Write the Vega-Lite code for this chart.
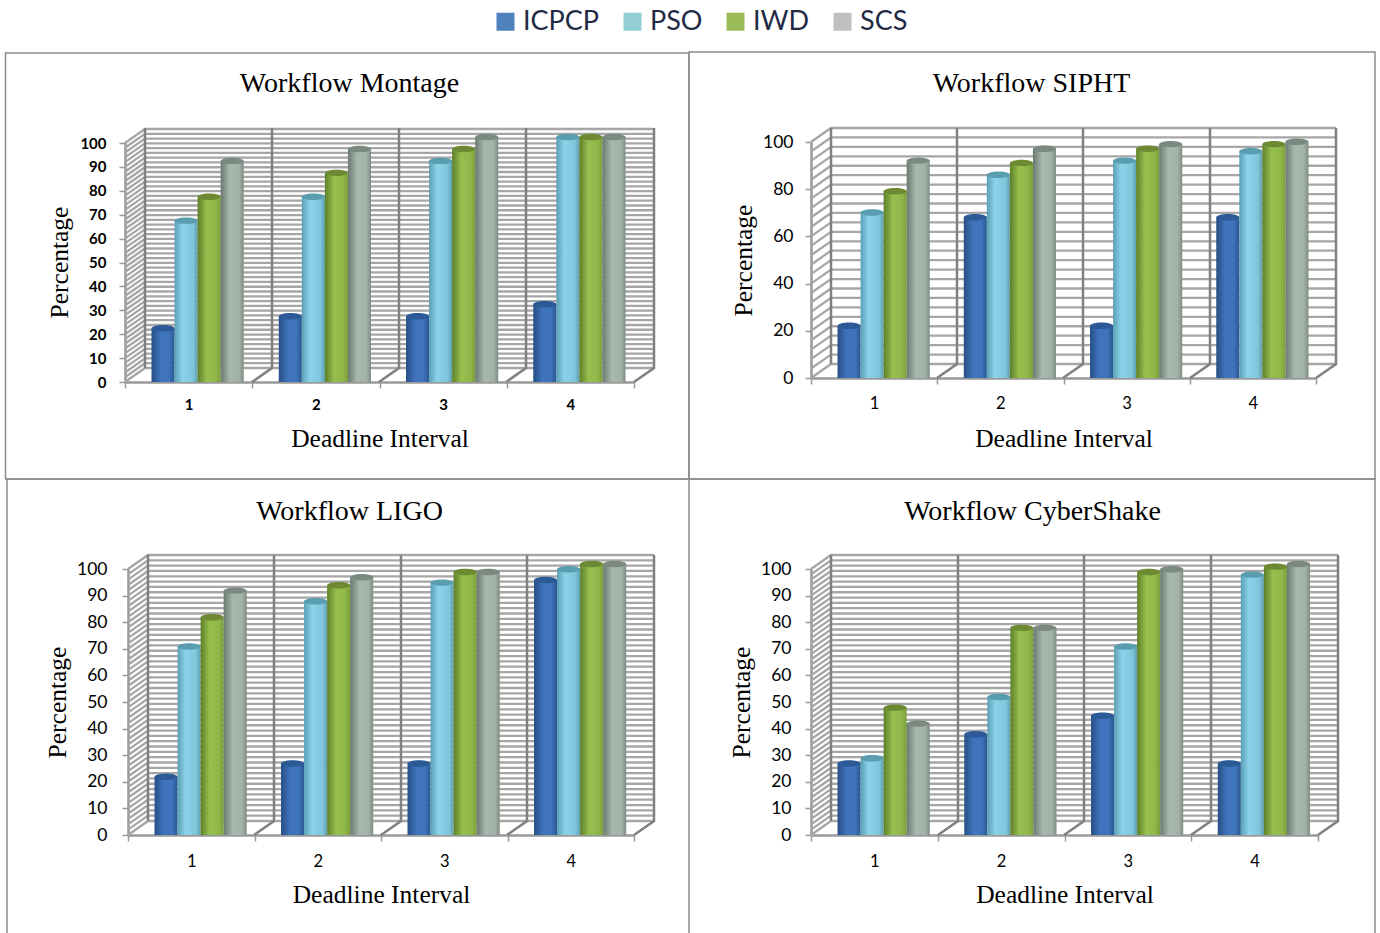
{"$schema":"https://vega.github.io/schema/vega-lite/v6.json","background":"white","padding":{"left":2,"top":8,"right":0,"bottom":0},"bounds":"flush","spacing":427,
"config":{"view":{"stroke":null},"axis":{"grid":false,"domainColor":"#999999","domainWidth":2.5,"tickColor":"#999999","tickWidth":1.5,"tickSize":6,"labelColor":"#000000","labelFont":"Lato","titleColor":"#000000","titleFont":"Liberation Serif","titleFontWeight":"normal","titleFontSize":25.5}},
"datasets":{
"montage":[{"g":"1","s":"ICPCP","v":20},{"g":"1","s":"PSO","v":65},{"g":"1","s":"IWD","v":75},{"g":"1","s":"SCS","v":90},{"g":"2","s":"ICPCP","v":25},{"g":"2","s":"PSO","v":75},{"g":"2","s":"IWD","v":85},{"g":"2","s":"SCS","v":95},{"g":"3","s":"ICPCP","v":25},{"g":"3","s":"PSO","v":90},{"g":"3","s":"IWD","v":95},{"g":"3","s":"SCS","v":100},{"g":"4","s":"ICPCP","v":30},{"g":"4","s":"PSO","v":100},{"g":"4","s":"IWD","v":100},{"g":"4","s":"SCS","v":100}],
"sipht":[{"g":"1","s":"ICPCP","v":20},{"g":"1","s":"PSO","v":68},{"g":"1","s":"IWD","v":77},{"g":"1","s":"SCS","v":90},{"g":"2","s":"ICPCP","v":66},{"g":"2","s":"PSO","v":84},{"g":"2","s":"IWD","v":89},{"g":"2","s":"SCS","v":95},{"g":"3","s":"ICPCP","v":20},{"g":"3","s":"PSO","v":90},{"g":"3","s":"IWD","v":95},{"g":"3","s":"SCS","v":97},{"g":"4","s":"ICPCP","v":66},{"g":"4","s":"PSO","v":94},{"g":"4","s":"IWD","v":97},{"g":"4","s":"SCS","v":98}],
"ligo":[{"g":"1","s":"ICPCP","v":20},{"g":"1","s":"PSO","v":69},{"g":"1","s":"IWD","v":80},{"g":"1","s":"SCS","v":90},{"g":"2","s":"ICPCP","v":25},{"g":"2","s":"PSO","v":86},{"g":"2","s":"IWD","v":92},{"g":"2","s":"SCS","v":95},{"g":"3","s":"ICPCP","v":25},{"g":"3","s":"PSO","v":93},{"g":"3","s":"IWD","v":97},{"g":"3","s":"SCS","v":97},{"g":"4","s":"ICPCP","v":94},{"g":"4","s":"PSO","v":98},{"g":"4","s":"IWD","v":100},{"g":"4","s":"SCS","v":100}],
"cyber":[{"g":"1","s":"ICPCP","v":25},{"g":"1","s":"PSO","v":27},{"g":"1","s":"IWD","v":46},{"g":"1","s":"SCS","v":40},{"g":"2","s":"ICPCP","v":36},{"g":"2","s":"PSO","v":50},{"g":"2","s":"IWD","v":76},{"g":"2","s":"SCS","v":76},{"g":"3","s":"ICPCP","v":43},{"g":"3","s":"PSO","v":69},{"g":"3","s":"IWD","v":97},{"g":"3","s":"SCS","v":98},{"g":"4","s":"ICPCP","v":25},{"g":"4","s":"PSO","v":96},{"g":"4","s":"IWD","v":99},{"g":"4","s":"SCS","v":100}],
"grid2":[{"v":0},{"v":2},{"v":4},{"v":6},{"v":8},{"v":10},{"v":12},{"v":14},{"v":16},{"v":18},{"v":20},{"v":22},{"v":24},{"v":26},{"v":28},{"v":30},{"v":32},{"v":34},{"v":36},{"v":38},{"v":40},{"v":42},{"v":44},{"v":46},{"v":48},{"v":50},{"v":52},{"v":54},{"v":56},{"v":58},{"v":60},{"v":62},{"v":64},{"v":66},{"v":68},{"v":70},{"v":72},{"v":74},{"v":76},{"v":78},{"v":80},{"v":82},{"v":84},{"v":86},{"v":88},{"v":90},{"v":92},{"v":94},{"v":96},{"v":98},{"v":100}],
"grid4":[{"v":0},{"v":4},{"v":8},{"v":12},{"v":16},{"v":20},{"v":24},{"v":28},{"v":32},{"v":36},{"v":40},{"v":44},{"v":48},{"v":52},{"v":56},{"v":60},{"v":64},{"v":68},{"v":72},{"v":76},{"v":80},{"v":84},{"v":88},{"v":92},{"v":96},{"v":100}]
},
"vconcat":[
{"hconcat":[
{"width":509,"height":240,"title":{"text":"Workflow Montage","font":"Liberation Serif","fontSize":28,"fontWeight":"normal","anchor":"middle","dx":-30,"offset":-48,"color":"#000000"},
"resolve":{"scale":{"fill":"independent"}},
"layer":[
{"data":{"values":[{"k":"frame"}]},"mark":{"type":"point","shape":"M-119.5,97L-119.5,-329L564,-329L564,97Z","size":4,"filled":false,"stroke":"#8c8c8c","strokeWidth":1.5,"opacity":1},"encoding":{"x":{"value":0},"y":{"datum":0,"scale":{"domain":[0,100.42],"nice":false},"axis":{"tickCount":11,"values":[0,10,20,30,40,50,60,70,80,90,100]}}}},
{"data":{"name":"grid2"},"mark":{"type":"point","shape":"M0,0L20,-14L529,-14","size":4,"filled":false,"stroke":"#a6a6a6","strokeWidth":2.3,"opacity":1},"encoding":{"x":{"value":0},"y":{"field":"v","type":"quantitative","scale":{"domain":[0,100.42],"nice":false},"axis":{"tickCount":11,"values":[0,10,20,30,40,50,60,70,80,90,100]}}}},
{"data":{"values":[{"k":"walls"}]},"mark":{"type":"point","shape":"M127,0L147,-14L147,-254M254,0L274,-14L274,-254M381,0L401,-14L401,-254M509,0L529,-14L529,-254M20,-14L20,-254","size":4,"filled":false,"stroke":"#808080","strokeWidth":2.5,"opacity":1},"encoding":{"x":{"value":0},"y":{"datum":0,"scale":{"domain":[0,100.42],"nice":false},"axis":{"tickCount":11,"values":[0,10,20,30,40,50,60,70,80,90,100]}}}},
{"data":{"name":"montage"},"mark":{"type":"bar","yOffset":-6,"y2Offset":-6},"encoding":{
"x":{"field":"g","type":"nominal","scale":{"paddingInner":0,"paddingOuter":0},"axis":{"title":"Deadline Interval","tickBand":"extent","labelAngle":0,"labelFontSize":15,"labelFontWeight":"bold","labelPadding":9,"titlePadding":14}},
"xOffset":{"field":"s","type":"nominal","scale":{"domain":["ICPCP","PSO","IWD","SCS"],"paddingInner":0,"paddingOuter":0.76,"align":0.757}},
"y":{"field":"v","type":"quantitative","stack":null,"scale":{"domain":[0,100.42],"nice":false},"axis":{"title":"Percentage","tickCount":11,"values":[0,10,20,30,40,50,60,70,80,90,100],"labelOverlap":false,"labelBound":false,"labelFontSize":15,"labelFontWeight":"bold","labelPadding":13,"titlePadding":7}},
"fill":{"field":"s","type":"nominal","legend":null,"scale":{"domain":["ICPCP","PSO","IWD","SCS"],"range":[{"expr":"{gradient:'linear',x1:0,y1:0,x2:1,y2:0,stops:[{offset:0,color:'#264f84'},{offset:0.4,color:'#3f74bd'},{offset:0.75,color:'#3f74bd'},{offset:1,color:'#2a578f'}]}"},{"expr":"{gradient:'linear',x1:0,y1:0,x2:1,y2:0,stops:[{offset:0,color:'#5a9fb5'},{offset:0.35,color:'#8ad3e8'},{offset:0.8,color:'#7fc6dc'},{offset:1,color:'#5f9fb0'}]}"},{"expr":"{gradient:'linear',x1:0,y1:0,x2:1,y2:0,stops:[{offset:0,color:'#5d7f28'},{offset:0.4,color:'#98c04f'},{offset:0.8,color:'#8fb648'},{offset:1,color:'#7a9e3b'}]}"},{"expr":"{gradient:'linear',x1:0,y1:0,x2:1,y2:0,stops:[{offset:0,color:'#6b7a70'},{offset:0.4,color:'#a9b8ad'},{offset:0.8,color:'#a3b2a7'},{offset:1,color:'#7e8d82'}]}"}]}}}},
{"data":{"name":"montage"},"mark":{"type":"point","shape":"M-11.5,0A11.5,3.2,0,1,1,11.5,0A11.5,3.2,0,1,1,-11.5,0Z","size":4,"filled":true,"opacity":1,"yOffset":-6},"encoding":{
"x":{"field":"g","type":"nominal","scale":{"paddingInner":0,"paddingOuter":0}},
"xOffset":{"field":"s","type":"nominal","scale":{"domain":["ICPCP","PSO","IWD","SCS"],"paddingInner":0,"paddingOuter":0.76,"align":0.757}},
"y":{"field":"v","type":"quantitative","stack":null,"scale":{"domain":[0,100.42],"nice":false},"axis":{"tickCount":11,"values":[0,10,20,30,40,50,60,70,80,90,100]}},
"fill":{"field":"s","type":"nominal","legend":null,"scale":{"domain":["ICPCP","PSO","IWD","SCS"],"range":["#2b5a97","#5a9cb0","#6d8a33","#7a8a80"]}}}},
{"data":{"name":"montage"},"mark":{"type":"point","shape":"M-11.5,0A11.5,3.2,0,0,0,11.5,0Z","size":4,"filled":true,"opacity":1,"yOffset":-6},"encoding":{
"x":{"field":"g","type":"nominal","scale":{"paddingInner":0,"paddingOuter":0}},
"xOffset":{"field":"s","type":"nominal","scale":{"domain":["ICPCP","PSO","IWD","SCS"],"paddingInner":0,"paddingOuter":0.76,"align":0.757}},
"y":{"datum":0,"scale":{"domain":[0,100.42],"nice":false},"axis":{"tickCount":11,"values":[0,10,20,30,40,50,60,70,80,90,100]}},
"fill":{"field":"s","type":"nominal","legend":null,"scale":{"domain":["ICPCP","PSO","IWD","SCS"],"range":[{"expr":"{gradient:'linear',x1:0,y1:0,x2:1,y2:0,stops:[{offset:0,color:'#264f84'},{offset:0.4,color:'#3f74bd'},{offset:0.75,color:'#3f74bd'},{offset:1,color:'#2a578f'}]}"},{"expr":"{gradient:'linear',x1:0,y1:0,x2:1,y2:0,stops:[{offset:0,color:'#5a9fb5'},{offset:0.35,color:'#8ad3e8'},{offset:0.8,color:'#7fc6dc'},{offset:1,color:'#5f9fb0'}]}"},{"expr":"{gradient:'linear',x1:0,y1:0,x2:1,y2:0,stops:[{offset:0,color:'#5d7f28'},{offset:0.4,color:'#98c04f'},{offset:0.8,color:'#8fb648'},{offset:1,color:'#7a9e3b'}]}"},{"expr":"{gradient:'linear',x1:0,y1:0,x2:1,y2:0,stops:[{offset:0,color:'#6b7a70'},{offset:0.4,color:'#a9b8ad'},{offset:0.8,color:'#a3b2a7'},{offset:1,color:'#7e8d82'}]}"}]}}}},
{"data":{"name":"montage"},"mark":{"type":"point","filled":true,"size":0,"opacity":1},"encoding":{"x":{"value":0},"y":{"datum":0,"scale":{"domain":[0,100.42],"nice":false},"axis":{"tickCount":11,"values":[0,10,20,30,40,50,60,70,80,90,100]}},
"color":{"field":"s","type":"nominal","scale":{"domain":["ICPCP","PSO","IWD","SCS"],"range":["#4f81bd","#93cdd5","#9bbb59","#bfbfbf"]},"legend":{"orient":"none","legendX":367,"legendY":-134,"direction":"horizontal","columns":4,"title":null,"symbolType":"square","symbolSize":324,"symbolStrokeWidth":0,"labelFont":"Lato","labelFontSize":27,"labelColor":"#1f2a44","labelOffset":4,"columnPadding":19}}}}
]},
{"width":505,"height":236,"title":{"text":"Workflow SIPHT","font":"Liberation Serif","fontSize":28,"fontWeight":"normal","anchor":"middle","dx":-32,"offset":-49,"color":"#000000"},
"resolve":{"scale":{"fill":"independent"}},
"layer":[
{"data":{"values":[{"k":"frame"}]},"mark":{"type":"point","shape":"M-122,101L-122,-326L564,-326L564,101Z","size":4,"filled":false,"stroke":"#8c8c8c","strokeWidth":1.5,"opacity":1},"encoding":{"x":{"value":0},"y":{"datum":0,"scale":{"domain":[0,100],"nice":false}}}},
{"data":{"name":"grid4"},"mark":{"type":"point","shape":"M0,0L20,-14L525,-14","size":4,"filled":false,"stroke":"#a6a6a6","strokeWidth":2.3,"opacity":1},"encoding":{"x":{"value":0},"y":{"field":"v","type":"quantitative","scale":{"domain":[0,100],"nice":false}}}},
{"data":{"values":[{"k":"walls"}]},"mark":{"type":"point","shape":"M126,0L146,-14L146,-250M252,0L272,-14L272,-250M379,0L399,-14L399,-250M505,0L525,-14L525,-250M20,-14L20,-250","size":4,"filled":false,"stroke":"#808080","strokeWidth":2.5,"opacity":1},"encoding":{"x":{"value":0},"y":{"datum":0,"scale":{"domain":[0,100],"nice":false}}}},
{"data":{"name":"sipht"},"mark":{"type":"bar","yOffset":-5,"y2Offset":-5},"encoding":{
"x":{"field":"g","type":"nominal","scale":{"paddingInner":0,"paddingOuter":0},"axis":{"title":"Deadline Interval","tickBand":"extent","labelAngle":0,"labelFontSize":16.5,"labelPadding":11,"titlePadding":15}},
"xOffset":{"field":"s","type":"nominal","scale":{"domain":["ICPCP","PSO","IWD","SCS"],"paddingInner":0,"paddingOuter":0.745,"align":0.79}},
"y":{"field":"v","type":"quantitative","stack":null,"scale":{"domain":[0,100],"nice":false},"axis":{"title":"Percentage","values":[0,20,40,60,80,100],"labelOverlap":false,"labelFontSize":17.5,"labelPadding":12,"titlePadding":6}},
"fill":{"field":"s","type":"nominal","legend":null,"scale":{"domain":["ICPCP","PSO","IWD","SCS"],"range":[{"expr":"{gradient:'linear',x1:0,y1:0,x2:1,y2:0,stops:[{offset:0,color:'#264f84'},{offset:0.4,color:'#3f74bd'},{offset:0.75,color:'#3f74bd'},{offset:1,color:'#2a578f'}]}"},{"expr":"{gradient:'linear',x1:0,y1:0,x2:1,y2:0,stops:[{offset:0,color:'#5a9fb5'},{offset:0.35,color:'#8ad3e8'},{offset:0.8,color:'#7fc6dc'},{offset:1,color:'#5f9fb0'}]}"},{"expr":"{gradient:'linear',x1:0,y1:0,x2:1,y2:0,stops:[{offset:0,color:'#5d7f28'},{offset:0.4,color:'#98c04f'},{offset:0.8,color:'#8fb648'},{offset:1,color:'#7a9e3b'}]}"},{"expr":"{gradient:'linear',x1:0,y1:0,x2:1,y2:0,stops:[{offset:0,color:'#6b7a70'},{offset:0.4,color:'#a9b8ad'},{offset:0.8,color:'#a3b2a7'},{offset:1,color:'#7e8d82'}]}"}]}}}},
{"data":{"name":"sipht"},"mark":{"type":"point","shape":"M-11.5,0A11.5,3.2,0,1,1,11.5,0A11.5,3.2,0,1,1,-11.5,0Z","size":4,"filled":true,"opacity":1,"yOffset":-5},"encoding":{
"x":{"field":"g","type":"nominal","scale":{"paddingInner":0,"paddingOuter":0}},
"xOffset":{"field":"s","type":"nominal","scale":{"domain":["ICPCP","PSO","IWD","SCS"],"paddingInner":0,"paddingOuter":0.745,"align":0.79}},
"y":{"field":"v","type":"quantitative","stack":null,"scale":{"domain":[0,100],"nice":false}},
"fill":{"field":"s","type":"nominal","legend":null,"scale":{"domain":["ICPCP","PSO","IWD","SCS"],"range":["#2b5a97","#5a9cb0","#6d8a33","#7a8a80"]}}}},
{"data":{"name":"sipht"},"mark":{"type":"point","shape":"M-11.5,0A11.5,3.2,0,0,0,11.5,0Z","size":4,"filled":true,"opacity":1,"yOffset":-5},"encoding":{
"x":{"field":"g","type":"nominal","scale":{"paddingInner":0,"paddingOuter":0}},
"xOffset":{"field":"s","type":"nominal","scale":{"domain":["ICPCP","PSO","IWD","SCS"],"paddingInner":0,"paddingOuter":0.745,"align":0.79}},
"y":{"datum":0,"scale":{"domain":[0,100],"nice":false}},
"fill":{"field":"s","type":"nominal","legend":null,"scale":{"domain":["ICPCP","PSO","IWD","SCS"],"range":[{"expr":"{gradient:'linear',x1:0,y1:0,x2:1,y2:0,stops:[{offset:0,color:'#264f84'},{offset:0.4,color:'#3f74bd'},{offset:0.75,color:'#3f74bd'},{offset:1,color:'#2a578f'}]}"},{"expr":"{gradient:'linear',x1:0,y1:0,x2:1,y2:0,stops:[{offset:0,color:'#5a9fb5'},{offset:0.35,color:'#8ad3e8'},{offset:0.8,color:'#7fc6dc'},{offset:1,color:'#5f9fb0'}]}"},{"expr":"{gradient:'linear',x1:0,y1:0,x2:1,y2:0,stops:[{offset:0,color:'#5d7f28'},{offset:0.4,color:'#98c04f'},{offset:0.8,color:'#8fb648'},{offset:1,color:'#7a9e3b'}]}"},{"expr":"{gradient:'linear',x1:0,y1:0,x2:1,y2:0,stops:[{offset:0,color:'#6b7a70'},{offset:0.4,color:'#a9b8ad'},{offset:0.8,color:'#a3b2a7'},{offset:1,color:'#7e8d82'}]}"}]}}}}
]}
],"spacing":177,"bounds":"flush"},
{"hconcat":[
{"width":509,"height":266,"title":{"text":"Workflow LIGO","font":"Liberation Serif","fontSize":28,"fontWeight":"normal","anchor":"middle","dx":-30,"offset":-50,"color":"#000000"},
"resolve":{"scale":{"fill":"independent"}},
"layer":[
{"data":{"values":[{"k":"frame"}]},"mark":{"type":"point","shape":"M-118,98L-118,-356L564,-356L564,98","size":4,"filled":false,"stroke":"#8c8c8c","strokeWidth":1.5,"opacity":1},"encoding":{"x":{"value":0},"y":{"datum":0,"scale":{"domain":[0,100],"nice":false},"axis":{"tickCount":11,"values":[0,10,20,30,40,50,60,70,80,90,100]}}}},
{"data":{"name":"grid2"},"mark":{"type":"point","shape":"M0,0L20,-14L526,-14","size":4,"filled":false,"stroke":"#a6a6a6","strokeWidth":2.3,"opacity":1},"encoding":{"x":{"value":3},"y":{"field":"v","type":"quantitative","scale":{"domain":[0,100],"nice":false},"axis":{"tickCount":11,"values":[0,10,20,30,40,50,60,70,80,90,100]}}}},
{"data":{"values":[{"k":"walls"}]},"mark":{"type":"point","shape":"M126,0L146,-14L146,-280M253,0L273,-14L273,-280M379,0L399,-14L399,-280M506,0L526,-14L526,-280M20,-14L20,-280","size":4,"filled":false,"stroke":"#808080","strokeWidth":2.5,"opacity":1},"encoding":{"x":{"value":3},"y":{"datum":0,"scale":{"domain":[0,100],"nice":false},"axis":{"tickCount":11,"values":[0,10,20,30,40,50,60,70,80,90,100]}}}},
{"data":{"name":"ligo"},"mark":{"type":"bar","yOffset":-5,"y2Offset":-5},"encoding":{
"x":{"field":"g","type":"nominal","scale":{"range":[3,509],"paddingInner":0,"paddingOuter":0},"axis":{"title":"Deadline Interval","tickBand":"extent","labelAngle":0,"labelFontSize":16.5,"labelPadding":12,"titlePadding":13}},
"xOffset":{"field":"s","type":"nominal","scale":{"domain":["ICPCP","PSO","IWD","SCS"],"paddingInner":0,"paddingOuter":0.75,"align":0.76}},
"y":{"field":"v","type":"quantitative","stack":null,"scale":{"domain":[0,100],"nice":false},"axis":{"title":"Percentage","tickCount":11,"values":[0,10,20,30,40,50,60,70,80,90,100],"labelOverlap":false,"offset":-3,"labelFontSize":17.5,"labelPadding":15,"titlePadding":6}},
"fill":{"field":"s","type":"nominal","legend":null,"scale":{"domain":["ICPCP","PSO","IWD","SCS"],"range":[{"expr":"{gradient:'linear',x1:0,y1:0,x2:1,y2:0,stops:[{offset:0,color:'#264f84'},{offset:0.4,color:'#3f74bd'},{offset:0.75,color:'#3f74bd'},{offset:1,color:'#2a578f'}]}"},{"expr":"{gradient:'linear',x1:0,y1:0,x2:1,y2:0,stops:[{offset:0,color:'#5a9fb5'},{offset:0.35,color:'#8ad3e8'},{offset:0.8,color:'#7fc6dc'},{offset:1,color:'#5f9fb0'}]}"},{"expr":"{gradient:'linear',x1:0,y1:0,x2:1,y2:0,stops:[{offset:0,color:'#5d7f28'},{offset:0.4,color:'#98c04f'},{offset:0.8,color:'#8fb648'},{offset:1,color:'#7a9e3b'}]}"},{"expr":"{gradient:'linear',x1:0,y1:0,x2:1,y2:0,stops:[{offset:0,color:'#6b7a70'},{offset:0.4,color:'#a9b8ad'},{offset:0.8,color:'#a3b2a7'},{offset:1,color:'#7e8d82'}]}"}]}}}},
{"data":{"name":"ligo"},"mark":{"type":"point","shape":"M-11.5,0A11.5,3.2,0,1,1,11.5,0A11.5,3.2,0,1,1,-11.5,0Z","size":4,"filled":true,"opacity":1,"yOffset":-5},"encoding":{
"x":{"field":"g","type":"nominal","scale":{"range":[3,509],"paddingInner":0,"paddingOuter":0}},
"xOffset":{"field":"s","type":"nominal","scale":{"domain":["ICPCP","PSO","IWD","SCS"],"paddingInner":0,"paddingOuter":0.75,"align":0.76}},
"y":{"field":"v","type":"quantitative","stack":null,"scale":{"domain":[0,100],"nice":false},"axis":{"tickCount":11,"values":[0,10,20,30,40,50,60,70,80,90,100]}},
"fill":{"field":"s","type":"nominal","legend":null,"scale":{"domain":["ICPCP","PSO","IWD","SCS"],"range":["#2b5a97","#5a9cb0","#6d8a33","#7a8a80"]}}}},
{"data":{"name":"ligo"},"mark":{"type":"point","shape":"M-11.5,0A11.5,3.2,0,0,0,11.5,0Z","size":4,"filled":true,"opacity":1,"yOffset":-5},"encoding":{
"x":{"field":"g","type":"nominal","scale":{"range":[3,509],"paddingInner":0,"paddingOuter":0}},
"xOffset":{"field":"s","type":"nominal","scale":{"domain":["ICPCP","PSO","IWD","SCS"],"paddingInner":0,"paddingOuter":0.75,"align":0.76}},
"y":{"datum":0,"scale":{"domain":[0,100],"nice":false},"axis":{"tickCount":11,"values":[0,10,20,30,40,50,60,70,80,90,100]}},
"fill":{"field":"s","type":"nominal","legend":null,"scale":{"domain":["ICPCP","PSO","IWD","SCS"],"range":[{"expr":"{gradient:'linear',x1:0,y1:0,x2:1,y2:0,stops:[{offset:0,color:'#264f84'},{offset:0.4,color:'#3f74bd'},{offset:0.75,color:'#3f74bd'},{offset:1,color:'#2a578f'}]}"},{"expr":"{gradient:'linear',x1:0,y1:0,x2:1,y2:0,stops:[{offset:0,color:'#5a9fb5'},{offset:0.35,color:'#8ad3e8'},{offset:0.8,color:'#7fc6dc'},{offset:1,color:'#5f9fb0'}]}"},{"expr":"{gradient:'linear',x1:0,y1:0,x2:1,y2:0,stops:[{offset:0,color:'#5d7f28'},{offset:0.4,color:'#98c04f'},{offset:0.8,color:'#8fb648'},{offset:1,color:'#7a9e3b'}]}"},{"expr":"{gradient:'linear',x1:0,y1:0,x2:1,y2:0,stops:[{offset:0,color:'#6b7a70'},{offset:0.4,color:'#a9b8ad'},{offset:0.8,color:'#a3b2a7'},{offset:1,color:'#7e8d82'}]}"}]}}}}
]},
{"width":507,"height":266,"title":{"text":"Workflow CyberShake","font":"Liberation Serif","fontSize":28,"fontWeight":"normal","anchor":"middle","dx":-32,"offset":-50,"color":"#000000"},
"resolve":{"scale":{"fill":"independent"}},
"layer":[
{"data":{"values":[{"k":"frame"}]},"mark":{"type":"point","shape":"M-122,-356L564,-356L564,98","size":4,"filled":false,"stroke":"#8c8c8c","strokeWidth":1.5,"opacity":1},"encoding":{"x":{"value":0},"y":{"datum":0,"scale":{"domain":[0,100],"nice":false},"axis":{"tickCount":11,"values":[0,10,20,30,40,50,60,70,80,90,100]}}}},
{"data":{"name":"grid2"},"mark":{"type":"point","shape":"M0,0L20,-14L527,-14","size":4,"filled":false,"stroke":"#a6a6a6","strokeWidth":2.3,"opacity":1},"encoding":{"x":{"value":0},"y":{"field":"v","type":"quantitative","scale":{"domain":[0,100],"nice":false},"axis":{"tickCount":11,"values":[0,10,20,30,40,50,60,70,80,90,100]}}}},
{"data":{"values":[{"k":"walls"}]},"mark":{"type":"point","shape":"M127,0L147,-14L147,-280M253,0L273,-14L273,-280M380,0L400,-14L400,-280M507,0L527,-14L527,-280M20,-14L20,-280","size":4,"filled":false,"stroke":"#808080","strokeWidth":2.5,"opacity":1},"encoding":{"x":{"value":0},"y":{"datum":0,"scale":{"domain":[0,100],"nice":false},"axis":{"tickCount":11,"values":[0,10,20,30,40,50,60,70,80,90,100]}}}},
{"data":{"name":"cyber"},"mark":{"type":"bar","yOffset":-5,"y2Offset":-5},"encoding":{
"x":{"field":"g","type":"nominal","scale":{"paddingInner":0,"paddingOuter":0},"axis":{"title":"Deadline Interval","tickBand":"extent","labelAngle":0,"labelFontSize":16.5,"labelPadding":12,"titlePadding":13}},
"xOffset":{"field":"s","type":"nominal","scale":{"domain":["ICPCP","PSO","IWD","SCS"],"paddingInner":0,"paddingOuter":0.75,"align":0.76}},
"y":{"field":"v","type":"quantitative","stack":null,"scale":{"domain":[0,100],"nice":false},"axis":{"title":"Percentage","tickCount":11,"values":[0,10,20,30,40,50,60,70,80,90,100],"labelOverlap":false,"labelFontSize":17.5,"labelPadding":14,"titlePadding":6}},
"fill":{"field":"s","type":"nominal","legend":null,"scale":{"domain":["ICPCP","PSO","IWD","SCS"],"range":[{"expr":"{gradient:'linear',x1:0,y1:0,x2:1,y2:0,stops:[{offset:0,color:'#264f84'},{offset:0.4,color:'#3f74bd'},{offset:0.75,color:'#3f74bd'},{offset:1,color:'#2a578f'}]}"},{"expr":"{gradient:'linear',x1:0,y1:0,x2:1,y2:0,stops:[{offset:0,color:'#5a9fb5'},{offset:0.35,color:'#8ad3e8'},{offset:0.8,color:'#7fc6dc'},{offset:1,color:'#5f9fb0'}]}"},{"expr":"{gradient:'linear',x1:0,y1:0,x2:1,y2:0,stops:[{offset:0,color:'#5d7f28'},{offset:0.4,color:'#98c04f'},{offset:0.8,color:'#8fb648'},{offset:1,color:'#7a9e3b'}]}"},{"expr":"{gradient:'linear',x1:0,y1:0,x2:1,y2:0,stops:[{offset:0,color:'#6b7a70'},{offset:0.4,color:'#a9b8ad'},{offset:0.8,color:'#a3b2a7'},{offset:1,color:'#7e8d82'}]}"}]}}}},
{"data":{"name":"cyber"},"mark":{"type":"point","shape":"M-11.5,0A11.5,3.2,0,1,1,11.5,0A11.5,3.2,0,1,1,-11.5,0Z","size":4,"filled":true,"opacity":1,"yOffset":-5},"encoding":{
"x":{"field":"g","type":"nominal","scale":{"paddingInner":0,"paddingOuter":0}},
"xOffset":{"field":"s","type":"nominal","scale":{"domain":["ICPCP","PSO","IWD","SCS"],"paddingInner":0,"paddingOuter":0.75,"align":0.76}},
"y":{"field":"v","type":"quantitative","stack":null,"scale":{"domain":[0,100],"nice":false},"axis":{"tickCount":11,"values":[0,10,20,30,40,50,60,70,80,90,100]}},
"fill":{"field":"s","type":"nominal","legend":null,"scale":{"domain":["ICPCP","PSO","IWD","SCS"],"range":["#2b5a97","#5a9cb0","#6d8a33","#7a8a80"]}}}},
{"data":{"name":"cyber"},"mark":{"type":"point","shape":"M-11.5,0A11.5,3.2,0,0,0,11.5,0Z","size":4,"filled":true,"opacity":1,"yOffset":-5},"encoding":{
"x":{"field":"g","type":"nominal","scale":{"paddingInner":0,"paddingOuter":0}},
"xOffset":{"field":"s","type":"nominal","scale":{"domain":["ICPCP","PSO","IWD","SCS"],"paddingInner":0,"paddingOuter":0.75,"align":0.76}},
"y":{"datum":0,"scale":{"domain":[0,100],"nice":false},"axis":{"tickCount":11,"values":[0,10,20,30,40,50,60,70,80,90,100]}},
"fill":{"field":"s","type":"nominal","legend":null,"scale":{"domain":["ICPCP","PSO","IWD","SCS"],"range":[{"expr":"{gradient:'linear',x1:0,y1:0,x2:1,y2:0,stops:[{offset:0,color:'#264f84'},{offset:0.4,color:'#3f74bd'},{offset:0.75,color:'#3f74bd'},{offset:1,color:'#2a578f'}]}"},{"expr":"{gradient:'linear',x1:0,y1:0,x2:1,y2:0,stops:[{offset:0,color:'#5a9fb5'},{offset:0.35,color:'#8ad3e8'},{offset:0.8,color:'#7fc6dc'},{offset:1,color:'#5f9fb0'}]}"},{"expr":"{gradient:'linear',x1:0,y1:0,x2:1,y2:0,stops:[{offset:0,color:'#5d7f28'},{offset:0.4,color:'#98c04f'},{offset:0.8,color:'#8fb648'},{offset:1,color:'#7a9e3b'}]}"},{"expr":"{gradient:'linear',x1:0,y1:0,x2:1,y2:0,stops:[{offset:0,color:'#6b7a70'},{offset:0.4,color:'#a9b8ad'},{offset:0.8,color:'#a3b2a7'},{offset:1,color:'#7e8d82'}]}"}]}}}}
]}
],"spacing":177,"bounds":"flush"}
]}
